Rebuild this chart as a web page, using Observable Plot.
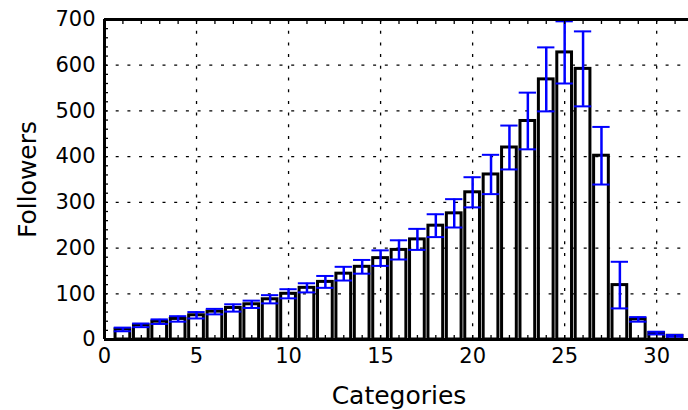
<!DOCTYPE html>
<html>
<head>
<meta charset="utf-8">
<script src="https://cdn.jsdelivr.net/npm/d3@7"></script>
<script src="https://cdn.jsdelivr.net/npm/@observablehq/plot@0.6"></script>
<style>
  html, body { margin: 0; padding: 0; background: white; overflow: hidden; }
  #chart svg { display: block; overflow: hidden; }
</style>
</head>
<body>
<div id="chart"></div>
<script>
// Followers per category, with the spread shown as error bars
const categories = d3.range(1, 32);
const followers = [22, 31, 39, 45, 53, 61, 69, 77, 88, 100, 113, 126, 144, 159, 178, 196,
                   219, 249, 276, 322, 361, 420, 478, 569, 628, 592, 402, 119, 44, 14, 8];
const spread = [4, 4, 5, 6, 7, 6, 8, 8, 9, 10, 10, 13, 15, 15, 17, 21,
                23, 25, 31, 33, 43, 48, 62, 70, 68, 82, 63, 51, 5, 3, 2];
const xTickLabels = [0, 5, 10, 15, 20, 25, 30];
const yTickLabels = [0, 100, 200, 300, 400, 500, 600, 700];

const rows = categories.map((c, i) => ({cat: c, value: followers[i], err: spread[i]}));

const barHalf = 0.4;   // bar width 0.8
const capHalf = 0.47;  // error-bar cap half width
const dash = "3,8.7";

const chart = Plot.plot({
  width: 688,
  height: 410,
  marginLeft: 104,
  marginRight: -5,
  marginTop: 19,
  marginBottom: 71,
  style: {fontFamily: "DejaVu Sans", color: "black", background: "white"},
  x: {domain: [0, 32]},
  y: {domain: [0, 700]},
  marks: [
    // bars
    Plot.rectY(rows, {
      x1: d => d.cat - barHalf, x2: d => d.cat + barHalf, y: "value",
      fill: "white", stroke: "black", strokeWidth: 3
    }),
    // dotted grid at major ticks
    Plot.gridX({ticks: xTickLabels.filter(t => t > 0), stroke: "black", strokeOpacity: 1, strokeWidth: 1.3, strokeDasharray: dash}),
    Plot.gridY({ticks: yTickLabels.filter(t => t > 0 && t < 700), stroke: "black", strokeOpacity: 1, strokeWidth: 1.3, strokeDasharray: dash}),
    // error bars
    Plot.ruleX(rows, {x: "cat", y1: d => d.value - d.err, y2: d => d.value + d.err, stroke: "blue", strokeWidth: 2.5}),
    Plot.ruleY(rows, {y: d => d.value + d.err, x1: d => d.cat - capHalf, x2: d => d.cat + capHalf, stroke: "blue", strokeWidth: 2}),
    Plot.ruleY(rows, {y: d => d.value - d.err, x1: d => d.cat - capHalf, x2: d => d.cat + capHalf, stroke: "blue", strokeWidth: 2}),
    // inward ticks on every side
    Plot.axisX({anchor: "bottom", ticks: d3.range(0, 33), tickSize: -4, tickFormat: () => "", label: null, strokeWidth: 1.3}),
    Plot.axisX({anchor: "top", ticks: d3.range(0, 33), tickSize: -4, tickFormat: () => "", label: null, strokeWidth: 1.3}),
    Plot.axisY({anchor: "left", ticks: d3.range(0, 701, 20), tickSize: -4, tickFormat: () => "", label: null, strokeWidth: 1.3}),
    // tick labels
    Plot.axisX({anchor: "bottom", ticks: xTickLabels, tickSize: 0, tickPadding: 9, fontSize: 21, label: null}),
    Plot.axisY({anchor: "left", ticks: yTickLabels, tickSize: 0, tickPadding: 9, fontSize: 21, label: null}),
    // axis titles
    Plot.text(["Categories"], {frameAnchor: "bottom", text: d => d, dy: 56, fontSize: 25, lineAnchor: "middle", textAnchor: "middle"}),
    Plot.text(["Followers"], {frameAnchor: "left", text: d => d, dx: -77, rotate: -90, fontSize: 25, lineAnchor: "middle", textAnchor: "middle"}),
    // spines
    Plot.ruleY([0], {stroke: "black", strokeWidth: 3}),
    Plot.ruleY([700], {stroke: "black", strokeWidth: 3}),
    Plot.ruleX([0], {stroke: "black", strokeWidth: 3})
  ]
});

document.getElementById("chart").appendChild(chart);
</script>
</body>
</html>
